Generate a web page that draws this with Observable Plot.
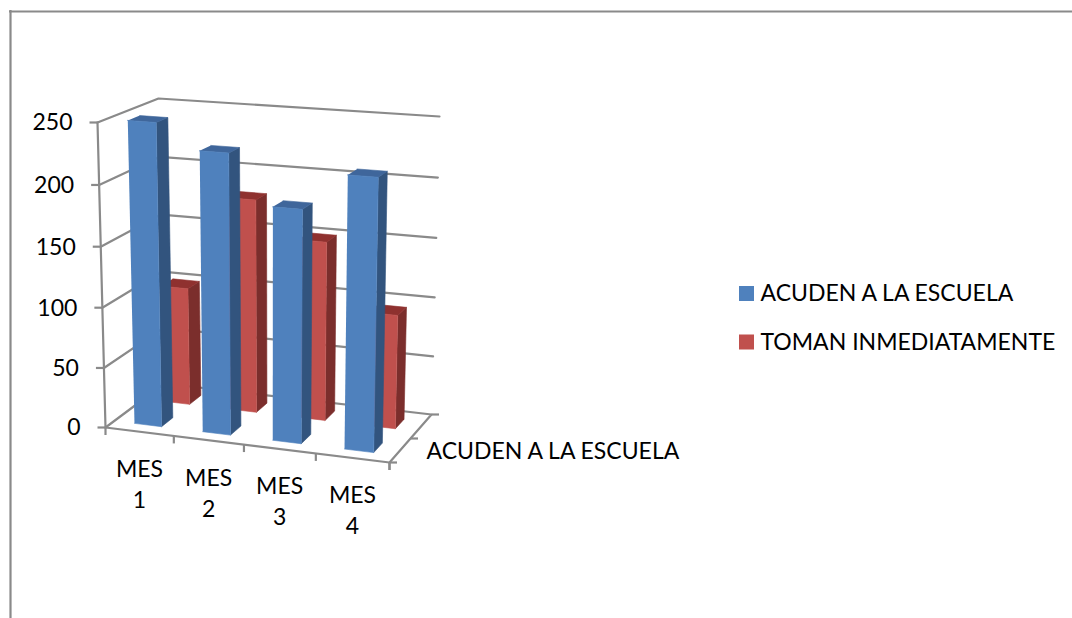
<!DOCTYPE html>
<html lang="es">
<head>
<meta charset="utf-8">
<title>Acuden a la escuela</title>
<script src="https://cdn.jsdelivr.net/npm/d3@7"></script>
<script src="https://cdn.jsdelivr.net/npm/@observablehq/plot@0.6"></script>
<style>
  html, body { margin: 0; padding: 0; background: #fff; }
  svg { display: block; }
</style>
</head>
<body>
<div id="chart"></div>
<script>
// Chart values
const meses = ["MES\n1", "MES\n2", "MES\n3", "MES\n4"];
const acuden = [250, 230, 190, 220];
const toman = [100, 180, 150, 95];
const valueTicks = [0, 50, 100, 150, 200, 250];
const seriesNames = ["ACUDEN A LA ESCUELA", "TOMAN INMEDIATAMENTE"];
const depthLabel = "ACUDEN A LA ESCUELA";

// Three-dimensional frame of the plot box, as seen on the page
const W = 1072, H = 618;
const maxValue = 250;
const floor = {fl: [105, 427], fr: [389, 462], bl: [164, 383], br: [431, 414]};
const ceil  = {fl: [97, 122],  fr: [395, 144], bl: [158, 98],  br: [439, 116]};
const FONT = "Lato, 'Open Sans', sans-serif";
const LABEL_SIZE = 23;
const GRID = "#8a8a8a";

const mix = (p, q, k) => [p[0] + (q[0] - p[0]) * k, p[1] + (q[1] - p[1]) * k];
const sheet = (c, u, d) => mix(mix(c.fl, c.fr, u), mix(c.bl, c.br, u), d);

// a: position along the months, b: position along the depth, v: data value
function project(a, b, v) {
  const u = 0.95 * a + 0.05 * a * a;
  const x = v / maxValue;
  const t = 0.97 * x + 0.03 * x * x;
  return mix(sheet(floor, u, b), sheet(ceil, u, b), t);
}

// Box faces of one column, expressed as closed outlines
const shades = [
  {front: "#4f81bd", side: "#32547e", top: "#3f669b"},
  {front: "#c0504d", side: "#7b2e2c", top: "#8f312f"}
];
function columnFaces(monthIndex, seriesIndex, value) {
  const a0 = (monthIndex + 0.3) / meses.length;
  const a1 = (monthIndex + 0.7) / meses.length;
  const b0 = (seriesIndex + 0.3) / 2;
  const b1 = (seriesIndex + 0.7) / 2;
  const s = shades[seriesIndex];
  const id = `${seriesIndex}-${monthIndex}`;
  const face = (name, color, corners) => corners.map(([a, b, v], i) => {
    const [px, py] = project(a, b, v);
    return {id: `${id}-${name}`, color, px, py, i};
  });
  return [
    ...face("side", s.side, [[a1, b0, 0], [a1, b1, 0], [a1, b1, value], [a1, b0, value]]),
    ...face("top", s.top, [[a0, b0, value], [a1, b0, value], [a1, b1, value], [a0, b1, value]]),
    ...face("front", s.front, [[a0, b0, 0], [a1, b0, 0], [a1, b0, value], [a0, b0, value]])
  ];
}
const facesOf = (values, seriesIndex) => values.flatMap((v, m) => columnFaces(m, seriesIndex, v));
const backRow = facesOf(toman, 1);
const frontRow = facesOf(acuden, 0);

// Walls, floor and gridlines
const pathOf = (id, points) => points.map(([a, b, v]) => {
  const [px, py] = project(a, b, v);
  return {id, px, py};
});
const wallLines = [
  ...valueTicks.filter(v => v > 0).flatMap(v => pathOf(`grid-${v}`, [[0, 0, v], [0, 1, v], [1, 1, v]])),
  ...pathOf("floor", [[0, 0, 0], [1, 0, 0], [1, 1, 0], [0, 1, 0], [0, 0, 0]]),
  ...pathOf("edge", [[0, 0, 0], [0, 0, maxValue]])
];

const valueAnchors = valueTicks.map(v => {
  const [px, py] = project(0, 0, v);
  return {v, px, py};
});
const monthTicks = d3.range(meses.length + 1).map(i => {
  const [px, py] = project(i / meses.length, 0, 0);
  return {px, py};
});
const monthAnchors = meses.map((label, i) => {
  const [px, py] = project((i + 0.5) / meses.length, 0, 0);
  return {label, px, py};
});
const depthTicks = [0, 0.5, 1].map(b => {
  const [px, py] = project(1, b, 0);
  return {px, py};
});
const [depthX, depthY] = project(1, 0.5, 0);

// Legend rows
const legendRows = seriesNames.map((name, i) => ({name, i, color: shades[i].front}));
const legendX = 739, legendSwatch = 15, legendTop = 286, legendStep = 48.5;

const faceOptions = {x: "px", y: "py", z: "id", fill: "color", stroke: "color", strokeWidth: 0.6};
const lineOptions = {stroke: GRID, strokeWidth: 2.2};

const chart = Plot.plot({
  width: W, height: H,
  margin: 0,
  style: {fontFamily: FONT, background: "#fff", color: "#000"},
  x: {domain: [0, W], range: [0, W], axis: null},
  y: {domain: [0, H], range: [0, H], axis: null},
  color: {type: "identity"},
  marks: [
    // Outer border of the chart area
    Plot.ruleY([11], {x1: 9, x2: W, ...lineOptions}),
    Plot.ruleX([10], {y1: 10, y2: H, ...lineOptions}),

    Plot.line(wallLines, {x: "px", y: "py", z: "id", ...lineOptions}),

    // Tick marks on the three axes
    Plot.link(valueAnchors, {x1: d => d.px - 8, x2: "px", y1: "py", y2: "py", ...lineOptions}),
    Plot.link(monthTicks, {x1: "px", x2: "px", y1: "py", y2: d => d.py + 7.5, ...lineOptions}),
    Plot.link(depthTicks, {x1: "px", x2: d => d.px + 7.5, y1: "py", y2: "py", ...lineOptions}),
    Plot.link(depthTicks.slice(0, 1), {x1: "px", x2: "px", y1: "py", y2: d => d.py + 7.5, ...lineOptions}),

    // Columns: the rear series first so the front one covers it
    Plot.line(backRow, faceOptions),
    Plot.line(frontRow, faceOptions),

    // Axis labels
    Plot.text(valueAnchors, {
      x: d => d.px - 25, y: d => d.py + 0.5, text: d => String(d.v),
      textAnchor: "end", fontSize: LABEL_SIZE, fill: "#000"
    }),
    Plot.text(monthAnchors, {
      x: "px", y: d => d.py + 51, text: "label",
      lineHeight: 1.35, fontSize: LABEL_SIZE, fill: "#000"
    }),
    Plot.text([depthLabel], {
      x: () => depthX + 16, y: () => depthY + 13, text: d => d,
      textAnchor: "start", fontSize: LABEL_SIZE, fill: "#000"
    }),

    // Legend
    Plot.rect(legendRows, {
      x1: () => legendX, x2: () => legendX + legendSwatch,
      y1: d => legendTop + d.i * legendStep, y2: d => legendTop + d.i * legendStep + legendSwatch,
      fill: "color"
    }),
    Plot.text(legendRows, {
      x: () => legendX + 21, y: d => legendTop + 7.5 + d.i * legendStep, text: "name",
      textAnchor: "start", fontSize: LABEL_SIZE, fill: "#000"
    })
  ]
});
document.getElementById("chart").append(chart);
</script>
</body>
</html>
